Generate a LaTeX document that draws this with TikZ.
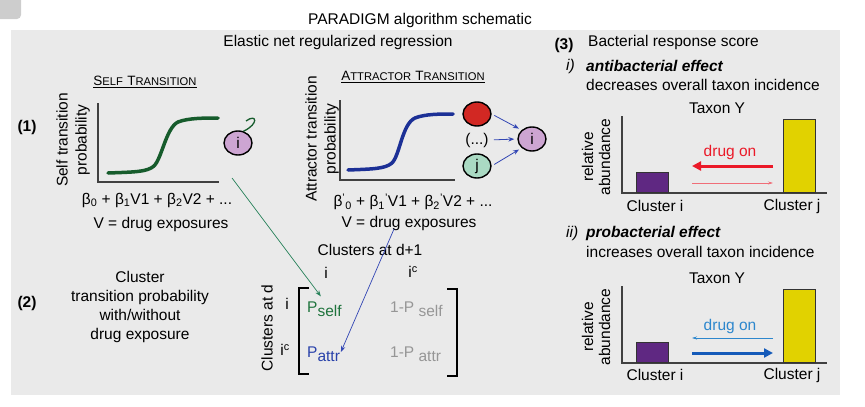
\documentclass[tikz,border=0pt]{standalone}
\usepackage{fontspec}
\setmainfont{Liberation Sans}
\usetikzlibrary{arrows.meta, shapes.geometric, positioning}
\definecolor{PanelGray}{RGB}{234,234,234}
\definecolor{CornerGray}{RGB}{205,205,205}
\definecolor{SelfGreen}{RGB}{22,92,44}
\definecolor{LinkGreen}{RGB}{40,130,90}
\definecolor{MatGreen}{RGB}{30,115,60}
\definecolor{AttrBlue}{RGB}{28,48,150}
\definecolor{LinkBlue}{RGB}{50,70,180}
\definecolor{MatBlue}{RGB}{40,65,170}
\definecolor{NodePurple}{RGB}{205,165,210}
\definecolor{NodeRed}{RGB}{210,40,35}
\definecolor{NodeMint}{RGB}{170,218,195}
\definecolor{EntryGray}{RGB}{150,150,150}
\definecolor{DrugRed}{RGB}{235,25,40}
\definecolor{DrugPink}{RGB}{240,110,120}
\definecolor{DrugBlue}{RGB}{45,135,205}
\definecolor{DeepBlue}{RGB}{20,90,185}
\definecolor{BarPurple}{RGB}{95,40,130}
\definecolor{BarYellow}{RGB}{225,210,0}
\newcommand{\mainsize}{\fontsize{15.5}{19}\selectfont}
\newcommand{\capword}[2]{{\fontsize{13.5}{16}\selectfont #1}{\fontsize{11.2}{14}\selectfont #2}}
\newcommand{\lowsub}[1]{\raisebox{-4pt}{#1}}

\begin{document}
\begin{tikzpicture}[x=1pt,y=-1pt,
    txt/.style={font=\mainsize,inner sep=0pt},
    cnode/.style={ellipse,draw=black,line width=1.4pt,font=\mainsize,
                  minimum width=28pt,minimum height=24pt,inner sep=0pt},
    curve/.style={line width=3.5pt,line cap=round},
    axis/.style={draw=black!75,line width=1.2pt},
    bar/.style={draw=black!80,line width=0.8pt,anchor=south west,minimum width=32pt},
    link/.style={-{Stealth[length=6pt,width=4.5pt]},line width=0.8pt},
    bigarr/.style={-{Triangle[length=9pt,width=9pt]},line width=3pt},
    thinarr/.style={-{Stealth[length=5pt,width=3pt]},line width=0.6pt}
  ]
    \useasboundingbox (0,0) rectangle (865,407);
    % background
    \fill[CornerGray,rounded corners=4pt] (-10,-10) rectangle (21,19);
    \fill[PanelGray] (11,30) rectangle (840,395);
    \node[txt] (title) at (420,20) {PARADIGM algorithm schematic};
    \node[txt] (enet)  at (338,42) {Elastic net regularized regression};

    % (1) self transition
    \node[txt,font=\mainsize\bfseries] (lab1) at (27,127) {(1)};
    \node[txt] (selfhead) at (145,82)
      {\underline{\capword{S}{ELF} \capword{T}{RANSITION}}};
    \node[txt,rotate=90,align=center] (selfy) at (73,140) {Self transition\\probability};
    \draw[axis] (98,103) -- (98,182) -- (219,182);
    \draw[curve,SelfGreen] (108,173) .. controls (135,172) and (147,172) .. (154,166)
      .. controls (162,158) and (166,128) .. (178,122)
      .. controls (188,118) and (205,118) .. (218,118);
    \node[cnode,fill=NodePurple] (si) at (238,143) {i};
    \coordinate (siloop) at (246,121);
    \draw[SelfGreen,line width=1.3pt] (si.65) .. controls (259,124) and (257,113) .. (siloop);
    \node[txt] (selfeq) at (157,200)
      {β\textsubscript{0} + β\textsubscript{1}V1 + β\textsubscript{2}V2 + ...};
    \node[txt] (selfv) at (161,224) {V = drug exposures};

    % attractor transition
    \node[txt] (attrhead) at (413,77)
      {\underline{\capword{A}{TTRACTOR} \capword{T}{RANSITION}}};
    \node[txt,rotate=90,align=center] (attry) at (322,139) {Attractor transition\\probability};
    \draw[axis] (340,100) -- (340,180) -- (455,180);
    \draw[curve,AttrBlue] (348,170) .. controls (372,169) and (385,169) .. (392,163)
      .. controls (400,155) and (402,124) .. (415,118)
      .. controls (425,114) and (440,114) .. (453,114);
    \node[cnode,fill=NodeRed]    (ar)   at (477,114) {};
    \node[txt]                   (adots) at (477,140) {(...)};
    \node[cnode,fill=NodeMint]   (aj)   at (477,166) {j};
    \node[cnode,fill=NodePurple] (ai)   at (532,139) {i};
    \draw[link,LinkBlue,shorten <=3pt,shorten >=3pt] (ar.east) -- (ai.north west);
    \draw[link,LinkBlue,shorten <=5pt,shorten >=3pt] (adots.east) -- (ai.west);
    \draw[link,LinkBlue,shorten <=3pt,shorten >=3pt] (aj.east) -- (ai.south west);
    \node[txt] (attreq) at (413,202)
      {β\textsuperscript{'}\textsubscript{0} + β\textsubscript{1}\textsuperscript{'}V1
       + β\textsubscript{2}\textsuperscript{'}V2 + ...};
    \node[txt] (attrv)  at (409,223) {V = drug exposures};

    % (2) transition matrix
    \node[txt,font=\mainsize\bfseries] (lab2) at (27,303) {(2)};
    \node[txt,align=center] (lab2txt) at (140,307)
      {Cluster\\transition probability\\with/without\\drug exposure};
    \node[txt] (dnext) at (370,250) {Clusters at d+1};
    \node[txt] (coli)  at (326,273) {i};
    \node[txt] (colic) at (413,272) {i\textsuperscript{c}};
    \node[txt,rotate=90] (dnow) at (267,328) {Clusters at d};
    \node[txt] (rowi)  at (287,304) {i};
    \node[txt] (rowic) at (285,350) {i\textsuperscript{c}};
    \draw[line width=1.6pt] (309,288) -- (299,288) -- (299,374) -- (309,374);
    \draw[line width=1.6pt] (447,289) -- (457,289) -- (457,376) -- (447,376);
    \node[txt,anchor=base west,text=MatGreen]  (pself) at (307,312) {P\lowsub{self}};
    \node[txt,anchor=base west,text=EntryGray] (qself) at (390,312) {1-P \lowsub{self}};
    \node[txt,anchor=base west,text=MatBlue]   (pattr) at (307,357) {P\lowsub{attr}};
    \node[txt,anchor=base west,text=EntryGray] (qattr) at (390,357) {1-P \lowsub{attr}};
    \coordinate (selfout) at (232,178);
    \coordinate (attrout) at (394,229);
    \draw[link,LinkGreen,line width=0.7pt,shorten >=6pt] (selfout) -- (pself.north);
    \draw[link,LinkBlue,line width=0.7pt,shorten >=2pt] (attrout) -- (pattr.east);

    % (3) bacterial response score
    \node[txt,font=\mainsize\bfseries] (lab3) at (564,45) {(3)};
    \node[txt,anchor=west] (brs) at (588,42) {Bacterial response score};
    % i) antibacterial
    \node[txt,anchor=west,font=\mainsize\itshape] (anti) at (566,66) {i)};
    \node[txt,anchor=west,font=\mainsize\bfseries\itshape] (antieff) at (586,66) {antibacterial effect};
    \node[txt,anchor=west] (antidesc) at (586,85) {decreases overall taxon incidence};
    \node[txt] (taxa) at (717,108) {Taxon Y};
    \draw[axis] (622,116) -- (622,193) -- (827,193);
    \node[txt,rotate=90,align=center,font=\fontsize{15.5}{17}\selectfont] (ya) at (596,157)
      {relative\\abundance};
    \node[bar,fill=BarPurple,minimum height=20pt] (cia) at (636,193) {};
    \node[bar,fill=BarYellow,minimum height=73pt] (cja) at (783,193) {};
    \node[txt] (cla)  at (655,206) {Cluster i};
    \node[txt] (clja) at (792,206) {Cluster j};
    \node[txt,text=DrugRed] (druga) at (730,152) {drug on};
    \coordinate (raR) at (773,166); \coordinate (raL) at (692,166);
    \coordinate (rbL) at (692,183); \coordinate (rbR) at (773,183);
    \draw[bigarr,DrugRed] (raR) -- (raL);
    \draw[thinarr,DrugPink] (rbL) -- (rbR);
    % ii) probacterial
    \node[txt,anchor=west,font=\mainsize\itshape] (pro) at (566,233) {ii)};
    \node[txt,anchor=west,font=\mainsize\bfseries\itshape] (proeff) at (586,233) {probacterial effect};
    \node[txt,anchor=west] (prodesc) at (586,252) {increases overall taxon incidence};
    \node[txt] (taxb) at (717,278) {Taxon Y};
    \draw[axis] (622,286) -- (622,363) -- (827,363);
    \node[txt,rotate=90,align=center,font=\fontsize{15.5}{17}\selectfont] (yb) at (596,327)
      {relative\\abundance};
    \node[bar,fill=BarPurple,minimum height=20pt] (cib) at (636,363) {};
    \node[bar,fill=BarYellow,minimum height=73pt] (cjb) at (783,363) {};
    \node[txt] (clb)  at (655,375) {Cluster i};
    \node[txt] (cljb) at (792,375) {Cluster j};
    \node[txt,text=DrugBlue] (drugb) at (730,326) {drug on};
    \coordinate (baR) at (773,338); \coordinate (baL) at (692,338);
    \coordinate (bbL) at (692,353); \coordinate (bbR) at (773,353);
    \draw[thinarr,DrugBlue] (baR) -- (baL);
    \draw[bigarr,DeepBlue] (bbL) -- (bbR);
\end{tikzpicture}
\end{document}
